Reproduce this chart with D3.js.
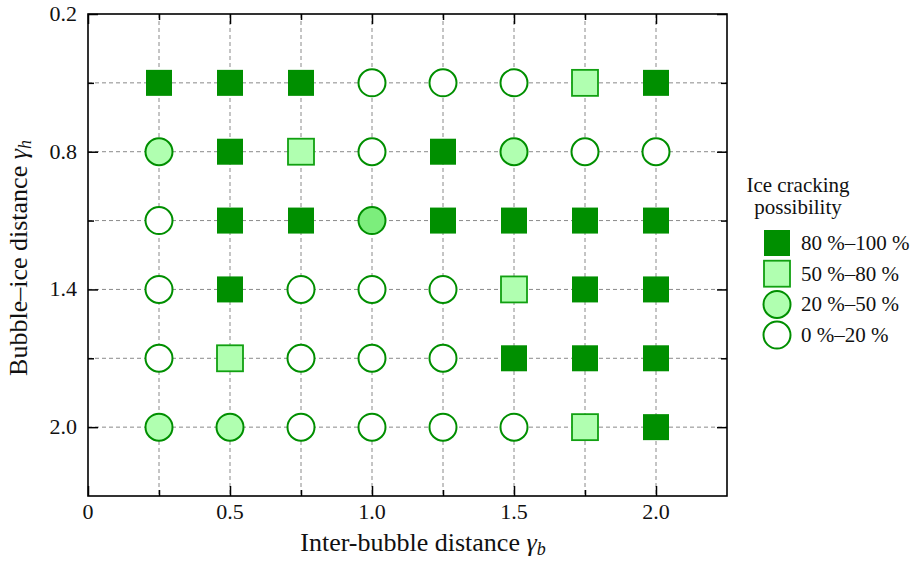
<!DOCTYPE html>
<html>
<head>
<meta charset="utf-8">
<script src="https://cdn.jsdelivr.net/npm/d3@7"></script>
<style>
  body { margin: 0; background: #fff; }
</style>
</head>
<body>
<svg id="chart" width="912" height="563"></svg>
<script>
const svg = d3.select('#chart')
const font = 'Liberation Serif'

// data
const xValues = [0.25, 0.5, 0.75, 1.0, 1.25, 1.5, 1.75, 2.0]
const yValues = [0.5, 0.8, 1.1, 1.4, 1.7, 2.0]
// A: 80-100 %, B: 50-80 %, C: 20-50 %, D: 0-20 %  (C+ : the one brighter 20-50 % circle)
const classes = [
  ['A', 'A', 'A', 'D', 'D', 'D', 'B', 'A'],
  ['C', 'A', 'B', 'D', 'A', 'C', 'D', 'D'],
  ['D', 'A', 'A', 'C+', 'A', 'A', 'A', 'A'],
  ['D', 'A', 'D', 'D', 'D', 'B', 'A', 'A'],
  ['D', 'B', 'D', 'D', 'D', 'A', 'A', 'A'],
  ['C', 'C', 'D', 'D', 'D', 'D', 'B', 'A']
]
const legendKeys = ['A', 'B', 'C', 'D']
const legendLabels = ['80 %\u2013100 %', '50 %\u201380 %', '20 %\u201350 %', '0 %\u201320 %']
const xTickVals = [0, 0.5, 1.0, 1.5, 2.0]
const xTickLabels = ['0', '0.5', '1.0', '1.5', '2.0']
const yTickVals = [0.2, 0.8, 1.4, 2.0]
const yTickLabels = ['0.2', '0.8', '1.4', '2.0']

const green = '#008f00'
const style = {
  'A': { shape: 'square', fill: green, stroke: 'none' },
  'B': { shape: 'square', fill: '#b0ffb0', stroke: '#11a011' },
  'C': { shape: 'circle', fill: '#b0ffb0', stroke: green },
  'C+': { shape: 'circle', fill: '#7cee7c', stroke: green },
  'D': { shape: 'circle', fill: '#ffffff', stroke: green }
}

const pLeft = 88, pRight = 727, pTop = 14, pBottom = 496

const x = d3.scaleLinear().domain([0, 2.25]).range([pLeft, pRight])
const y = d3.scaleLinear().domain([0.2, 2.3]).range([pTop, pBottom])

// grid
const grid = svg.append('g')
grid.selectAll('line.vg')
  .data(xValues)
  .enter().append('line')
    .attr('x1', d => x(d)).attr('x2', d => x(d))
    .attr('y1', pTop).attr('y2', pBottom)
    .attr('stroke', '#8a8a8a').attr('stroke-width', 1)
    .attr('stroke-dasharray', '4,3')
grid.selectAll('line.hg')
  .data(yValues)
  .enter().append('line')
    .attr('y1', d => y(d)).attr('y2', d => y(d))
    .attr('x1', pLeft).attr('x2', pRight)
    .attr('stroke', '#8a8a8a').attr('stroke-width', 1)
    .attr('stroke-dasharray', '4,3')

// ticks (inward, on all four sides)
const xMinor = xValues.filter(v => !xTickVals.includes(v))
const yMinor = yValues.filter(v => !yTickVals.includes(v))
const tickSets = [
  { axis: d3.axisBottom(x).tickValues(xTickVals).tickSize(-10), tr: `translate(0,${pBottom})` },
  { axis: d3.axisBottom(x).tickValues(xMinor).tickSize(-6), tr: `translate(0,${pBottom})` },
  { axis: d3.axisTop(x).tickValues(xTickVals).tickSize(-10), tr: `translate(0,${pTop})` },
  { axis: d3.axisTop(x).tickValues(xMinor).tickSize(-6), tr: `translate(0,${pTop})` },
  { axis: d3.axisLeft(y).tickValues(yTickVals).tickSize(-10), tr: `translate(${pLeft},0)` },
  { axis: d3.axisLeft(y).tickValues(yMinor).tickSize(-6), tr: `translate(${pLeft},0)` },
  { axis: d3.axisRight(y).tickValues(yTickVals).tickSize(-10), tr: `translate(${pRight},0)` },
  { axis: d3.axisRight(y).tickValues(yMinor).tickSize(-6), tr: `translate(${pRight},0)` }
]
tickSets.forEach(t => {
  const g = svg.append('g').attr('transform', t.tr).call(t.axis.tickFormat(''))
  g.select('path.domain').remove()
  g.selectAll('.tick line').attr('stroke', '#000').attr('stroke-width', 1.5)
})

// tick labels
svg.append('g').selectAll('text')
  .data(xTickVals)
  .enter().append('text')
    .attr('x', d => x(d)).attr('y', 519)
    .attr('text-anchor', 'middle')
    .attr('font-family', font).attr('font-size', 22)
    .attr('fill', '#111')
    .text((d, i) => xTickLabels[i])
svg.append('g').selectAll('text')
  .data(yTickVals)
  .enter().append('text')
    .attr('x', 77).attr('y', d => y(d) + 7)
    .attr('text-anchor', 'end')
    .attr('font-family', font).attr('font-size', 22)
    .attr('fill', '#111')
    .text((d, i) => yTickLabels[i])

// frame
svg.append('rect')
  .attr('x', pLeft).attr('y', pTop)
  .attr('width', pRight - pLeft).attr('height', pBottom - pTop)
  .attr('fill', 'none').attr('stroke', '#000').attr('stroke-width', 1.6)

// markers
const points = []
classes.forEach((row, i) => row.forEach((c, j) => points.push({ x: xValues[j], y: yValues[i], c: c })))

function drawMarker(sel, c) {
  const s = style[c]
  if (s.shape === 'square') {
    sel.append('rect')
      .attr('x', -13).attr('y', -13).attr('width', 26).attr('height', 26)
      .attr('fill', s.fill)
      .attr('stroke', s.stroke).attr('stroke-width', s.stroke === 'none' ? 0 : 1.8)
  } else {
    sel.append('circle')
      .attr('r', 13.5)
      .attr('fill', s.fill)
      .attr('stroke', s.stroke).attr('stroke-width', 2)
  }
}

svg.append('g').selectAll('g.pt')
  .data(points)
  .enter().append('g')
    .attr('class', 'pt')
    .attr('transform', d => `translate(${x(d.x)},${y(d.y)})`)
    .each(function(d) { drawMarker(d3.select(this), d.c) })

// axis titles
const xt = svg.append('text')
  .attr('x', 423).attr('y', 551)
  .attr('text-anchor', 'middle')
  .attr('font-family', font).attr('font-size', 26)
  .attr('fill', '#111')
xt.append('tspan').text('Inter-bubble distance ')
xt.append('tspan').attr('font-style', 'italic').text('\u03b3')
xt.append('tspan').attr('font-style', 'italic').attr('font-size', 18).attr('dy', 4).text('b')

const yt = svg.append('text')
  .attr('transform', `translate(27,258) rotate(-90)`)
  .attr('text-anchor', 'middle')
  .attr('font-family', font).attr('font-size', 26)
  .attr('fill', '#111')
yt.append('tspan').text('Bubble\u2013ice distance ')
yt.append('tspan').attr('font-style', 'italic').text('\u03b3')
yt.append('tspan').attr('font-style', 'italic').attr('font-size', 18).attr('dy', 4).text('h')

// legend
const legend = svg.append('g')
legend.append('text').attr('x', 798).attr('y', 192).attr('text-anchor', 'middle')
  .attr('font-family', font).attr('font-size', 21).attr('fill', '#111').text('Ice cracking')
legend.append('text').attr('x', 798).attr('y', 214).attr('text-anchor', 'middle')
  .attr('font-family', font).attr('font-size', 21).attr('fill', '#111').text('possibility')
const items = legend.selectAll('g.item')
  .data(legendKeys)
  .enter().append('g')
    .attr('class', 'item')
    .attr('transform', (d, i) => `translate(777,${243 + i * 30.7})`)
items.each(function(d) { drawMarker(d3.select(this), d) })
items.append('text')
  .attr('x', 24).attr('y', 7)
  .attr('font-family', font).attr('font-size', 21)
  .attr('fill', '#111')
  .text((d, i) => legendLabels[i])
</script>
</body>
</html>
